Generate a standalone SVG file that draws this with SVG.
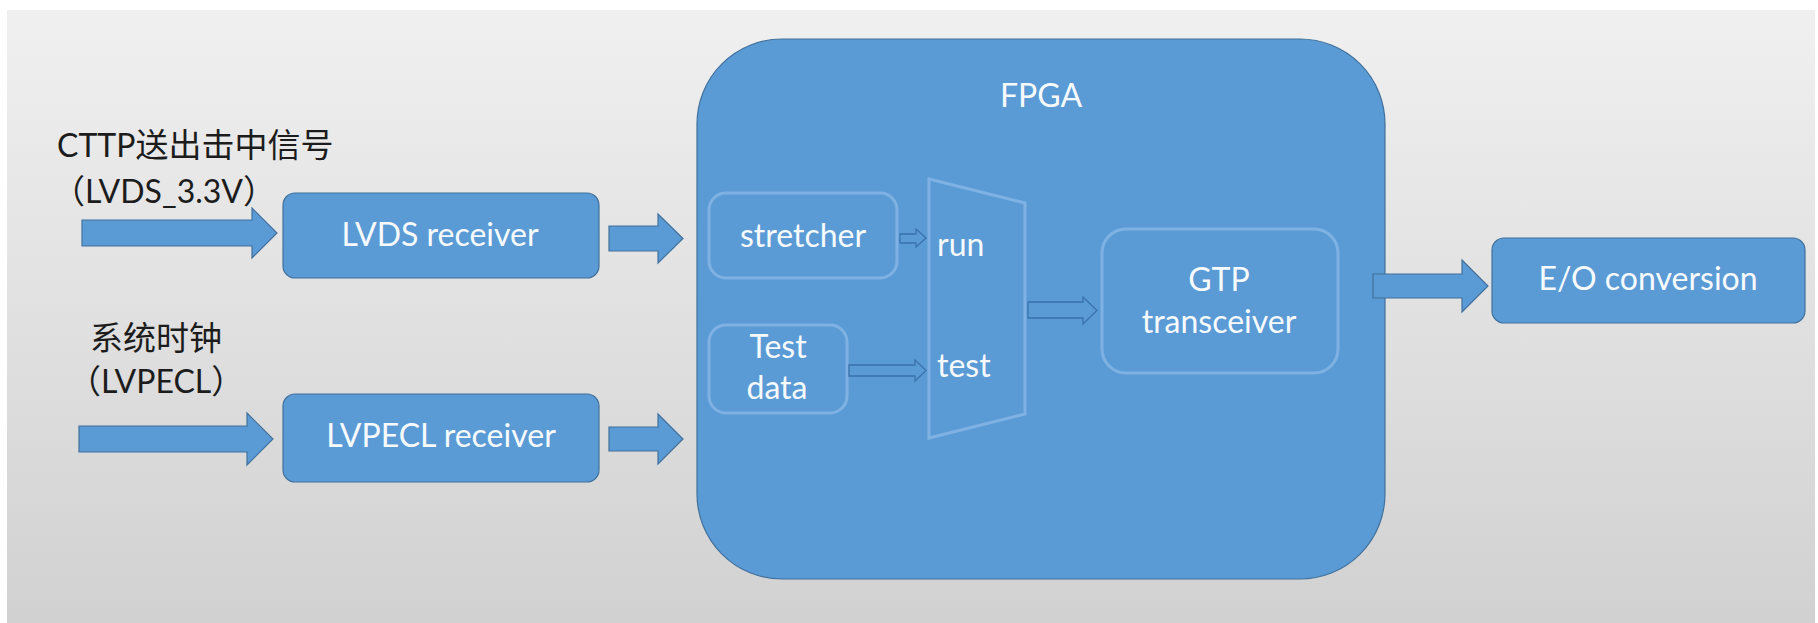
<svg xmlns="http://www.w3.org/2000/svg" width="1818" height="623" viewBox="0 0 1818 623">
  <defs>
    <linearGradient id="bg" x1="0" y1="0" x2="0" y2="1">
      <stop offset="0" stop-color="#f0f0f0"/>
      <stop offset="1" stop-color="#d1d1d1"/>
    </linearGradient>
    <style>
      .box { fill: #5b9bd5; stroke: #41719c; stroke-width: 1.2; }
      .inner { fill: none; stroke: #7fb2e3; stroke-width: 3; }
      .blk { fill: #5b9bd5; stroke: #41719c; stroke-width: 1.2; }
      .hol { fill: #5b9bd5; stroke: #3a72ad; stroke-width: 1.3; }
      .wt { font-family: Lato, "Noto Sans", sans-serif; fill: #f7fafd; font-size: 32px; }
      .lbl { font-family: Lato, "Noto Sans CJK SC", sans-serif; fill: #1c1c1c; font-size: 32px; }
      .cjk { font-family: "Noto Sans CJK SC", sans-serif; font-size: 33px; }
      .mid { text-anchor: middle; }
    </style>
  </defs>

  <!-- backdrop -->
  <rect x="0" y="0" width="1818" height="623" fill="#ffffff"/>
  <rect x="7" y="10" width="1808" height="613" fill="url(#bg)"/>

  <!-- input labels -->
  <g id="label-cttp">
    <text class="lbl" x="57" y="157">CTTP<tspan class="cjk">送出击中信号</tspan></text>
    <text class="lbl" x="52" y="203"><tspan class="cjk">（</tspan>LVDS_3.3V<tspan class="cjk">）</tspan></text>
  </g>
  <g id="label-clock">
    <text class="lbl" x="90" y="350"><tspan class="cjk">系统时钟</tspan></text>
    <text class="lbl" x="68" y="393"><tspan class="cjk">（</tspan>LVPECL<tspan class="cjk">）</tspan></text>
  </g>

  <!-- receivers -->
  <g id="lvds-receiver">
    <rect class="box" x="283" y="193" width="316" height="85" rx="12"/>
    <text class="wt mid" x="440" y="246">LVDS receiver</text>
  </g>
  <g id="lvpecl-receiver">
    <rect class="box" x="283" y="394" width="316" height="88" rx="12"/>
    <text class="wt mid" x="441" y="447">LVPECL receiver</text>
  </g>

  <!-- FPGA container -->
  <g id="fpga">
    <rect class="box" x="697" y="39" width="688" height="540" rx="85"/>
    <text class="wt mid" x="1041" y="107">FPGA</text>
  </g>

  <g id="stretcher">
    <rect class="inner" x="709" y="193" width="188" height="85" rx="17"/>
    <text class="wt mid" x="803" y="247">stretcher</text>
  </g>
  <g id="test-data">
    <rect class="inner" x="709" y="325" width="138" height="88" rx="17"/>
    <text class="wt mid" x="778" y="358">Test</text>
    <text class="wt mid" x="777" y="399">data</text>
  </g>
  <g id="mux">
    <polygon class="inner" points="929,179 1025,203 1025,414 929,438"/>
    <text class="wt" x="937" y="256">run</text>
    <text class="wt" x="937" y="377">test</text>
  </g>
  <g id="gtp-transceiver">
    <rect class="inner" x="1102" y="229" width="236" height="144" rx="24"/>
    <text class="wt mid" x="1219" y="291">GTP</text>
    <text class="wt mid" x="1219" y="333">transceiver</text>
  </g>

  <g id="eo-conversion">
    <rect class="box" x="1492" y="238" width="313" height="85" rx="12"/>
    <text class="wt mid" x="1648" y="290">E/O conversion</text>
  </g>

  <!-- connectors -->
  <g id="connectors">
    <polygon class="blk" points="82,220 252,220 252,208 277,233 252,258 252,246 82,246"/>
    <polygon class="blk" points="79,426 247,426 247,413 273,439 247,465 247,452 79,452"/>
    <polygon class="blk" points="609,226 658,226 658,214 683,238.5 658,263 658,251 609,251"/>
    <polygon class="blk" points="609,427 658,427 658,414 683,439 658,464 658,451 609,451"/>
    <polygon class="blk" points="1373,274 1462,274 1462,260 1488,286 1462,312 1462,298 1373,298"/>
    <polygon class="hol" points="900,234 916,234 916,229 926,238 916,247 916,243 900,243"/>
    <polygon class="hol" points="849,365 915,365 915,360 926,370.5 915,381 915,376 849,376"/>
    <polygon class="hol" points="1028,302 1083,302 1083,297 1097,310.5 1083,324 1083,318 1028,318"/>
  </g>
</svg>
